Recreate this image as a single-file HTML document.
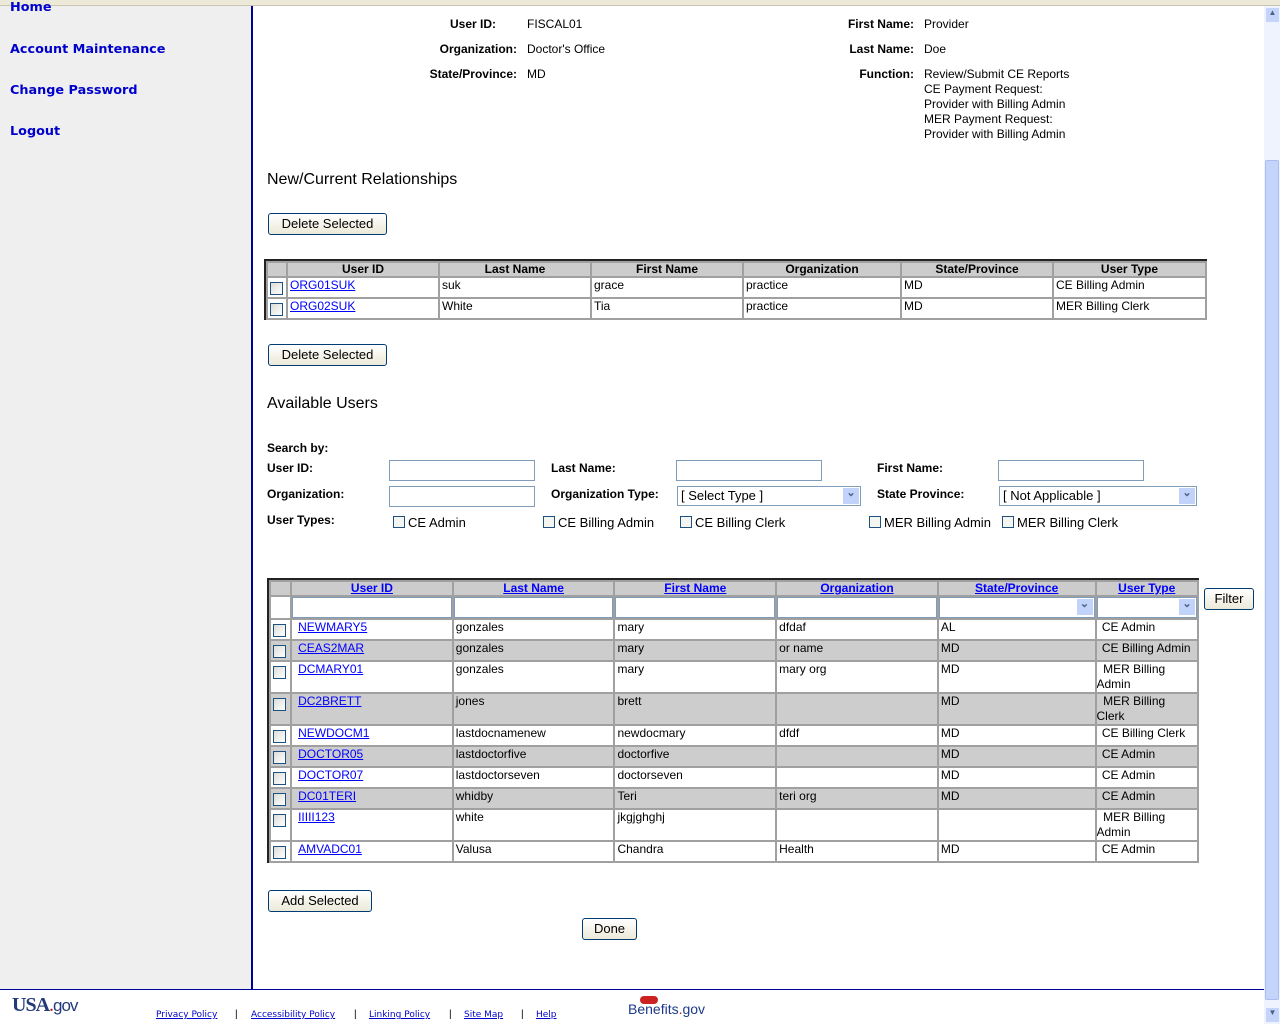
<!DOCTYPE html>
<html><head><meta charset="utf-8"><style>
*{margin:0;padding:0;box-sizing:border-box}
body{width:1280px;height:1024px;position:relative;overflow:hidden;background:#fff;font-family:"Liberation Sans",sans-serif;font-size:12px;color:#000}
.a{position:absolute;white-space:nowrap}
.nav{position:absolute;left:10px;font-family:"DejaVu Sans",sans-serif;font-weight:bold;font-size:12.8px;color:#00c}
.lbl{font-weight:bold;text-align:right}
.btn{position:absolute;border:1px solid #003c74;border-radius:3px;background:linear-gradient(#fff,#ece9d8);font-size:13px;text-align:center;line-height:20px;height:22px}
.h{font-size:16px;font-weight:normal}
table{position:absolute;border-collapse:separate;border-spacing:2px;background:#a0a0a0;border-left:2px solid #222;border-top:2px solid #222;table-layout:fixed}
td{background:#fff;padding:0 2px;vertical-align:top;line-height:15px;height:19px;overflow:hidden;white-space:nowrap;font-size:12px}
th{background:#ccc;font-size:12px;line-height:13px;height:13px;padding:0;overflow:hidden}
a{color:#00f;text-decoration:underline}
.cb{display:block;width:13px;height:13px;border:1px solid #1c5180;background:linear-gradient(135deg,#dcdcd7,#fff);margin:4px 0 0 2px}
.g td{background:#cdcdcd}
.inp{position:absolute;border:1px solid #7f9db9;height:21px;background:#fff}
.sel{position:absolute;border:1px solid #7f9db9;height:20px;background:#fff;font-size:13px;line-height:18px;padding-left:3px}
.sel::after{content:"⌄";position:absolute;right:1px;top:1px;width:16px;height:16px;background:#c1d3fb;color:#4d6185;font-size:11px;line-height:10px;text-align:center;font-weight:bold}
.ck{position:absolute;font-size:13px}
.ck i{display:inline-block;width:12px;height:12px;border:1px solid #1c5180;background:#f4f4f0;margin-right:3px;vertical-align:-1px}
.f{font-family:"DejaVu Sans",sans-serif;font-size:9px;color:#00c;text-decoration:underline}
.t2{line-height:15px;white-space:normal;padding:0}
</style></head><body>
<div class="a" style="left:0;top:0;width:1280px;height:6px;background:#ece9d8;border-bottom:1px solid #c9c5b3"></div>
<div class="a" style="left:0;top:6px;width:253px;height:984px;background:#efefef;border-right:2px solid #00009a"></div>
<div class="nav" style="top:0px">Home</div>
<div class="nav" style="top:42px">Account Maintenance</div>
<div class="nav" style="top:83px">Change Password</div>
<div class="nav" style="top:124px">Logout</div>
<div class="a" style="left:1264px;top:6px;width:16px;height:1018px;background:#eef3fd"></div>
<div class="a" style="left:1265px;top:160px;width:14px;height:840px;background:#c4d4fb;border:1px solid #a8bef0;border-radius:2px"></div>
<div class="a" style="left:1266px;top:8px;width:13px;height:14px;background:#c4d4fb;font-size:8px;text-align:center;color:#4d6185">▲</div>
<div class="a" style="left:1266px;top:1008px;width:13px;height:14px;background:#c4d4fb;font-size:8px;text-align:center;color:#4d6185">▼</div>

<div class="a lbl" style="left:400px;width:96px;top:17px">User ID:</div><div class="a" style="left:527px;top:17px">FISCAL01</div>
<div class="a lbl" style="left:400px;width:117px;top:42px">Organization:</div><div class="a" style="left:527px;top:42px">Doctor's Office</div>
<div class="a lbl" style="left:400px;width:117px;top:67px">State/Province:</div><div class="a" style="left:527px;top:67px">MD</div>
<div class="a lbl" style="left:800px;width:114px;top:17px">First Name:</div><div class="a" style="left:924px;top:17px">Provider</div>
<div class="a lbl" style="left:800px;width:114px;top:42px">Last Name:</div><div class="a" style="left:924px;top:42px">Doe</div>
<div class="a lbl" style="left:800px;width:114px;top:67px">Function:</div>
<div class="a" style="left:924px;top:67px;line-height:15px">Review/Submit CE Reports<br>CE Payment Request:<br>Provider with Billing Admin<br>MER Payment Request:<br>Provider with Billing Admin</div>

<div class="a h" style="left:267px;top:171px">New/Current Relationships</div>
<div class="btn" style="left:268px;top:213px;width:119px">Delete Selected</div>

<table style="left:264px;top:259px;width:942px">
<colgroup><col style="width:18px"><col style="width:150px"><col style="width:150px"><col style="width:150px"><col style="width:156px"><col style="width:150px"><col style="width:151px"></colgroup>
<tr><th></th><th>User ID</th><th>Last Name</th><th>First Name</th><th>Organization</th><th>State/Province</th><th>User Type</th></tr>
<tr><td style="padding:0"><span class="cb"></span></td><td><a>ORG01SUK</a></td><td>suk</td><td>grace</td><td>practice</td><td>MD</td><td>CE Billing Admin</td></tr>
<tr><td style="padding:0"><span class="cb"></span></td><td><a>ORG02SUK</a></td><td>White</td><td>Tia</td><td>practice</td><td>MD</td><td>MER Billing Clerk</td></tr>
</table>

<div class="btn" style="left:268px;top:344px;width:119px">Delete Selected</div>
<div class="a h" style="left:267px;top:395px">Available Users</div>

<div class="a lbl" style="left:267px;top:441px">Search by:</div>
<div class="a lbl" style="left:267px;top:461px">User ID:</div>
<div class="a lbl" style="left:267px;top:487px">Organization:</div>
<div class="a lbl" style="left:267px;top:513px">User Types:</div>
<div class="a lbl" style="left:551px;top:461px">Last Name:</div>
<div class="a lbl" style="left:551px;top:487px">Organization Type:</div>
<div class="a lbl" style="left:877px;top:461px">First Name:</div>
<div class="a lbl" style="left:877px;top:487px">State Province:</div>
<div class="inp" style="left:389px;top:460px;width:146px"></div>
<div class="inp" style="left:389px;top:486px;width:146px"></div>
<div class="inp" style="left:676px;top:460px;width:146px"></div>
<div class="inp" style="left:998px;top:460px;width:146px"></div>
<div class="sel" style="left:677px;top:486px;width:184px">[ Select Type ]</div>
<div class="sel" style="left:999px;top:486px;width:198px">[ Not Applicable ]</div>
<div class="ck" style="left:393px;top:515px"><i></i>CE Admin</div>
<div class="ck" style="left:543px;top:515px"><i></i>CE Billing Admin</div>
<div class="ck" style="left:680px;top:515px"><i></i>CE Billing Clerk</div>
<div class="ck" style="left:869px;top:515px"><i></i>MER Billing Admin</div>
<div class="ck" style="left:1002px;top:515px"><i></i>MER Billing Clerk</div>

<table style="left:267px;top:578px;width:932px">
<colgroup><col style="width:19px"><col style="width:159px"><col style="width:159px"><col style="width:159px"><col style="width:159px"><col style="width:155px"><col style="width:100px"></colgroup>
<tr><th></th><th><a>User ID</a></th><th><a>Last Name</a></th><th><a>First Name</a></th><th><a>Organization</a></th><th><a>State/Province</a></th><th><a>User Type</a></th></tr>
<tr><td style="height:21px"></td><td style="padding:0"><div style="border:1px solid #7f9db9;height:21px"></div></td><td style="padding:0"><div style="border:1px solid #7f9db9;height:21px"></div></td><td style="padding:0"><div style="border:1px solid #7f9db9;height:21px"></div></td><td style="padding:0"><div style="border:1px solid #7f9db9;height:21px"></div></td><td style="padding:0;position:relative"><div class="sel" style="position:relative;height:21px"></div></td><td style="padding:0;position:relative"><div class="sel" style="position:relative;height:21px"></div></td></tr>
<tr><td style="padding:0"><span class="cb"></span></td><td style="padding-left:6px"><a>NEWMARY5</a></td><td>gonzales</td><td>mary</td><td>dfdaf</td><td>AL</td><td>&nbsp;CE Admin</td></tr>
<tr class="g"><td style="padding:0"><span class="cb"></span></td><td style="padding-left:6px"><a>CEAS2MAR</a></td><td>gonzales</td><td>mary</td><td>or name</td><td>MD</td><td>&nbsp;CE Billing Admin</td></tr>
<tr><td style="padding:0;height:30px"><span class="cb"></span></td><td style="padding-left:6px"><a>DCMARY01</a></td><td>gonzales</td><td>mary</td><td>mary org</td><td>MD</td><td class="t2">&nbsp;&nbsp;MER Billing<br>Admin</td></tr>
<tr class="g"><td style="padding:0;height:30px"><span class="cb"></span></td><td style="padding-left:6px"><a>DC2BRETT</a></td><td>jones</td><td>brett</td><td></td><td>MD</td><td class="t2">&nbsp;&nbsp;MER Billing<br>Clerk</td></tr>
<tr><td style="padding:0"><span class="cb"></span></td><td style="padding-left:6px"><a>NEWDOCM1</a></td><td>lastdocnamenew</td><td>newdocmary</td><td>dfdf</td><td>MD</td><td>&nbsp;CE Billing Clerk</td></tr>
<tr class="g"><td style="padding:0"><span class="cb"></span></td><td style="padding-left:6px"><a>DOCTOR05</a></td><td>lastdoctorfive</td><td>doctorfive</td><td></td><td>MD</td><td>&nbsp;CE Admin</td></tr>
<tr><td style="padding:0"><span class="cb"></span></td><td style="padding-left:6px"><a>DOCTOR07</a></td><td>lastdoctorseven</td><td>doctorseven</td><td></td><td>MD</td><td>&nbsp;CE Admin</td></tr>
<tr class="g"><td style="padding:0"><span class="cb"></span></td><td style="padding-left:6px"><a>DC01TERI</a></td><td>whidby</td><td>Teri</td><td>teri org</td><td>MD</td><td>&nbsp;CE Admin</td></tr>
<tr><td style="padding:0;height:30px"><span class="cb"></span></td><td style="padding-left:6px"><a>IIIII123</a></td><td>white</td><td>jkgjghghj</td><td></td><td></td><td class="t2">&nbsp;&nbsp;MER Billing<br>Admin</td></tr>
<tr><td style="padding:0"><span class="cb"></span></td><td style="padding-left:6px"><a>AMVADC01</a></td><td>Valusa</td><td>Chandra</td><td>Health</td><td>MD</td><td>&nbsp;CE Admin</td></tr>
</table>
<div class="btn" style="left:1204px;top:588px;width:50px">Filter</div>

<div class="btn" style="left:268px;top:890px;width:104px">Add Selected</div>
<div class="btn" style="left:582px;top:918px;width:55px">Done</div>

<div class="a" style="left:0;top:989px;width:1264px;height:1px;background:#00009a"></div>
<div class="a" style="left:12px;top:994px;font-family:'Liberation Serif',serif;font-size:20px;color:#223a7a;letter-spacing:-1px"><b>USA</b><span style="color:#b22">.</span><span style="font-family:'Liberation Sans';font-size:17px">gov</span></div>
<div class="a f" style="left:156px;top:1010px">Privacy Policy</div>
<div class="a" style="left:235px;top:1009px;font-size:10px">|</div>
<div class="a f" style="left:251px;top:1010px">Accessibility Policy</div>
<div class="a" style="left:354px;top:1009px;font-size:10px">|</div>
<div class="a f" style="left:369px;top:1010px">Linking Policy</div>
<div class="a" style="left:449px;top:1009px;font-size:10px">|</div>
<div class="a f" style="left:464px;top:1010px">Site Map</div>
<div class="a" style="left:521px;top:1009px;font-size:10px">|</div>
<div class="a f" style="left:536px;top:1010px">Help</div>
<div class="a" style="left:628px;top:1001px;font-size:14px;color:#1d3a8a">Benefits<span style="color:#b22">.</span>gov</div>
<div class="a" style="left:640px;top:996px;width:18px;height:8px;background:#c22;border-radius:4px"></div>
</body></html>
